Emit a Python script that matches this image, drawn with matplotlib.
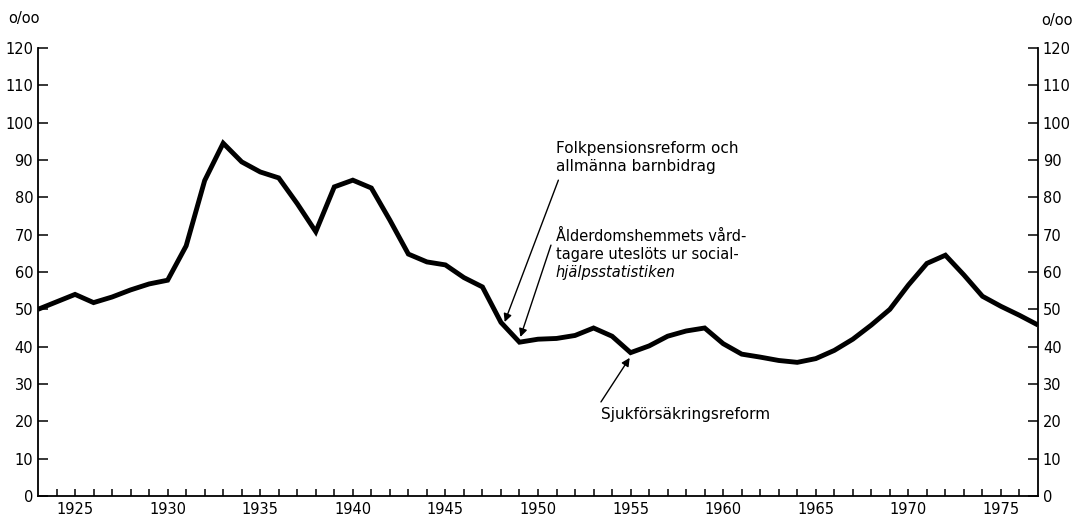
import matplotlib
matplotlib.use("Agg")
import matplotlib.pyplot as plt

plt.rcParams["font.family"] = ["DejaVu Sans"]

# Data: per mille receiving social assistance
years = [1923, 1924, 1925, 1926, 1927, 1928, 1929, 1930, 1931, 1932,
         1933, 1934, 1935, 1936, 1937, 1938, 1939, 1940, 1941, 1942,
         1943, 1944, 1945, 1946, 1947, 1948, 1949, 1950, 1951, 1952,
         1953, 1954, 1955, 1956, 1957, 1958, 1959, 1960, 1961, 1962,
         1963, 1964, 1965, 1966, 1967, 1968, 1969, 1970, 1971, 1972,
         1973, 1974, 1975, 1976, 1977]
values = [50.0, 52.0, 54.0, 51.8, 53.3, 55.2, 56.8, 57.8, 67.0, 84.5,
          94.5, 89.5, 86.8, 85.2, 78.3, 70.8, 82.8, 84.6, 82.5, 73.9,
          64.8, 62.7, 61.9, 58.5, 56.0, 46.5, 41.2, 42.0, 42.2, 43.0,
          45.0, 42.8, 38.4, 40.2, 42.8, 44.2, 45.0, 40.8, 38.0, 37.2,
          36.3, 35.8, 36.8, 39.0, 42.0, 45.8, 50.0, 56.5, 62.3, 64.5,
          59.2, 53.5, 50.8, 48.4, 45.8]

x_ticks = [1924, 1925, 1926, 1927, 1928, 1929, 1930, 1931, 1932, 1933,
           1934, 1935, 1936, 1937, 1938, 1939, 1940, 1941, 1942, 1943,
           1944, 1945, 1946, 1947, 1948, 1949, 1950, 1951, 1952, 1953,
           1954, 1955, 1956, 1957, 1958, 1959, 1960, 1961, 1962, 1963,
           1964, 1965, 1966, 1967, 1968, 1969, 1970, 1971, 1972, 1973,
           1974, 1975, 1976]
x_labeled = [1925, 1930, 1935, 1940, 1945, 1950, 1955, 1960, 1965, 1970, 1975]
y_ticks = [0, 10, 20, 30, 40, 50, 60, 70, 80, 90, 100, 110, 120]

fig = plt.figure(figsize=(10.74, 5.19), dpi=100)
ax = fig.add_axes([38 / 1074, 23 / 519, 1000 / 1074, 448 / 519])

ax.plot(years, values, color="black", linewidth=3.5, solid_joinstyle="miter",
        solid_capstyle="butt")

ax.set_xlim(1923, 1977)
ax.set_ylim(0, 120)

ax.spines["top"].set_visible(False)
for side in ["left", "right", "bottom"]:
    ax.spines[side].set_linewidth(1.3)

# ticks every year, labels every fifth year; y axis labelled on both sides
ax.set_xticks(x_ticks)
ax.set_xticklabels([str(y) if y in x_labeled else "" for y in x_ticks])
ax.set_yticks(y_ticks)
ax.tick_params(axis="x", direction="in", length=5, width=1.1, pad=4,
               labelsize=10.5)
ax.tick_params(axis="y", direction="in", length=7.5, width=1.1, pad=3.5,
               labelsize=10.5, left=True, right=True,
               labelleft=True, labelright=True)

# unit labels above both axes
fig.text(8 / 1074, 1 - 18 / 519, "o/oo", fontsize=10.5, ha="left", va="center")
fig.text(1041 / 1074, 1 - 20 / 519, "o/oo", fontsize=10.5, ha="left", va="center")

# annotations
arrow = dict(arrowstyle="-|>", color="black", lw=1.0,
             mutation_scale=12, shrinkA=0, shrinkB=0)

ax.annotate("", xy=(1948.2, 46.6), xytext=(1951.1, 84.6), arrowprops=arrow)
ax.text(1950.95, 95.0, "Folkpensionsreform och\nallmänna barnbidrag",
        fontsize=11, ha="left", va="top", linespacing=1.2)

ax.annotate("", xy=(1949.05, 42.6), xytext=(1950.7, 67.2), arrowprops=arrow)
ax.text(1950.95, 71.6, "Ålderdomshemmets vård-\ntagare uteslöts ur social-",
        fontsize=10.5, ha="left", va="top", linespacing=1.25)
ax.text(1950.95, 60.0, "hjälpsstatistiken", fontsize=10.5, ha="left",
        va="center", style="italic")

ax.annotate("", xy=(1954.95, 37.0), xytext=(1953.4, 25.2), arrowprops=arrow)
ax.text(1953.4, 21.7, "Sjukförsäkringsreform", fontsize=11, ha="left",
        va="center")

fig.savefig("out.png", dpi=100)
